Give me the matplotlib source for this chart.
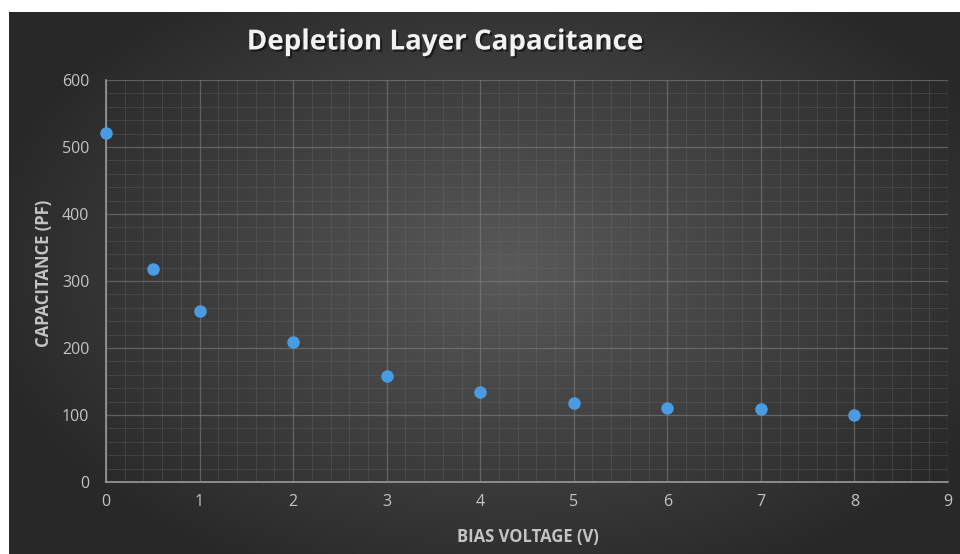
#! /usr/bin/env python3

import numpy as np
import matplotlib
matplotlib.use('agg')
import matplotlib.pyplot as plt
import matplotlib.patheffects as pe
from matplotlib.ticker import MultipleLocator

# Data
bias_v = [0, 0.5, 1, 2, 3, 4, 5, 6, 7, 8]
cap_pf = [521, 318, 255, 209, 158, 134, 118, 110, 109, 100]

title = "Depletion Layer Capacitance"
xlabel = "BIAS VOLTAGE (V)"
ylabel = "CAPACITANCE (PF)"

W, H = 960, 554
plt.rcParams['font.family'] = ['Open Sans', 'DejaVu Sans']

fig = plt.figure(figsize=(W / 100, H / 100), dpi=100)
fig.patch.set_facecolor('white')

# Dark radial-gradient chart background
bg = fig.add_axes([9 / W, 0, (W - 9) / W, (H - 12) / H])
bg.axis('off')
gx, gy = np.meshgrid(np.linspace(-1, 1, 400), np.linspace(-1, 1, 240))
r = np.sqrt((gx - 0.05) ** 2 + ((gy + 0.05) * 0.9) ** 2)
shade = np.clip(0.35 - 0.17 * r, 0.16, 0.35)
bg.imshow(np.dstack([shade, shade, shade]), aspect='auto', extent=(0, 1, 0, 1),
          interpolation='bilinear')
bg.set_xlim(0, 1)
bg.set_ylim(0, 1)

# Plot area
x0, x1 = 106, 948
y0, y1 = 80, 482
ax = fig.add_axes([x0 / W, 1 - y1 / H, (x1 - x0) / W, (y1 - y0) / H])
ax.set_facecolor('none')

ax.set_xlim(0, 9)
ax.set_ylim(0, 600)
ax.xaxis.set_major_locator(MultipleLocator(1))
ax.xaxis.set_minor_locator(MultipleLocator(0.2))
ax.yaxis.set_major_locator(MultipleLocator(100))
ax.yaxis.set_minor_locator(MultipleLocator(20))
ax.grid(which='major', color='#808080', linewidth=0.9, alpha=0.6)
ax.grid(which='minor', color='#6a6a6a', linewidth=0.6, alpha=0.4)
ax.set_axisbelow(True)

for side in ['top', 'right']:
    ax.spines[side].set_visible(False)
for side in ['left', 'bottom']:
    ax.spines[side].set_color('#9a9a9a')
    ax.spines[side].set_linewidth(1.2)

ax.tick_params(which='both', length=0, colors='#c4c4c4', labelsize=11.5)
ax.tick_params(axis='x', pad=9)
ax.tick_params(axis='y', pad=12)

ax.plot(bias_v, cap_pf, 'o', color='#4a9ce2', markersize=9, markeredgewidth=0,
        clip_on=False, zorder=5)

fig.text(445 / W, 1 - 42 / H, title, ha='center', va='center', fontsize=20,
         fontweight='bold', color='#f2f2f2',
         path_effects=[pe.withSimplePatchShadow(offset=(1.5, -1.5), shadow_rgbFace='black', alpha=0.5)])
fig.text(528 / W, 1 - 537 / H, xlabel, ha='center', va='center', fontsize=12,
         fontweight='bold', color='#c4c4c4')
fig.text(44 / W, 1 - 273 / H, ylabel, ha='center', va='center', fontsize=12,
         fontweight='bold', color='#c4c4c4', rotation=90)

fig.savefig('out.png', dpi=100, facecolor=fig.get_facecolor())
